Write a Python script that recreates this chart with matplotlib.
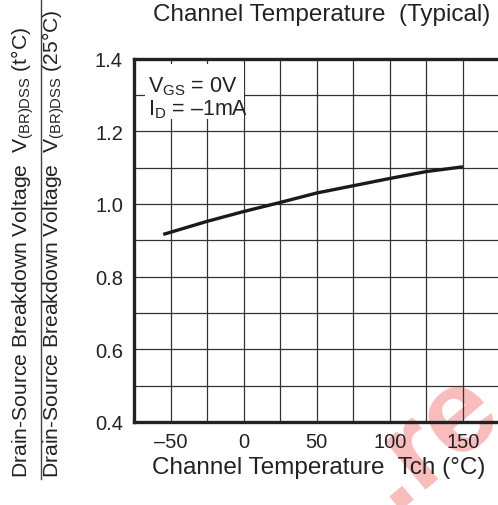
import matplotlib
matplotlib.use("Agg")
from matplotlib import pyplot as plt
from matplotlib.lines import Line2D
from matplotlib.patches import Rectangle
import numpy as np

plt.rcParams['font.family'] = ['Liberation Sans', 'DejaVu Sans']
plt.rcParams['mathtext.fontset'] = 'custom'
plt.rcParams['mathtext.rm'] = 'Liberation Sans'
plt.rcParams['mathtext.it'] = 'Liberation Sans'

# data
tch = [-55, -50, -25, 0, 25, 50, 75, 100, 125, 150]
ratio = [0.916, 0.922, 0.952, 0.979, 1.004, 1.030, 1.050, 1.070, 1.089, 1.102]

x_ticks = [-50, 0, 50, 100, 150]
x_tick_labels = ['\u201350', '0', '50', '100', '150']
y_ticks = [0.4, 0.6, 0.8, 1.0, 1.2, 1.4]
y_tick_labels = ['0.4', '0.6', '0.8', '1.0', '1.2', '1.4']

DEG = '\u00b0'
W, H = 498, 506
fig = plt.figure(figsize=(W / 100, H / 100), dpi=100)

left, right, top, bottom = 134, 499.5, 59.5, 423
ax = fig.add_axes([left / W, 1 - bottom / H, (right - left) / W, (bottom - top) / H])
ax.set_facecolor('none')

ax.set_xlim(-75, 175)
ax.set_ylim(0.4, 1.4)
ax.set_xticks(x_ticks)
ax.set_xticklabels(x_tick_labels)
ax.set_xticks(np.arange(-75, 176, 25), minor=True)
ax.set_yticks(y_ticks)
ax.set_yticklabels(y_tick_labels)
ax.set_yticks(np.arange(0.4, 1.41, 0.1), minor=True)
ax.tick_params(which='both', length=0, labelsize=14.5, colors='#222222')
ax.tick_params(axis='y', pad=8)
ax.tick_params(axis='x', pad=7)
ax.grid(which='both', color='#333333', linewidth=0.9)

for side in ['left', 'bottom', 'top']:
    ax.spines[side].set_linewidth(2.4)
    ax.spines[side].set_color('#222222')
ax.spines['right'].set_visible(False)

ax.plot(tch, ratio, color='#1a1a1a', linewidth=2.4, solid_capstyle='butt', zorder=5)

# condition box
ax.add_patch(Rectangle((-67.5, 1.234), 68, 0.151, facecolor='white', edgecolor='none', zorder=3))
ax.text(-65.5, 1.31, r'V$_{\rm GS}$ = 0V', fontsize=15.5, color='#222222', va='baseline', zorder=4)
ax.text(-65.5, 1.247, r'I$_{\rm D}$ = ' + '\u20131mA',
        fontsize=15.5, color='#222222', va='baseline', zorder=4)

fig.text(322 / W, 1 - 15 / H, 'Channel Temperature  (Typical)', fontsize=17.5,
         color='#222222', ha='center', va='center')
fig.text(319 / W, 1 - 468 / H, 'Channel Temperature  Tch (' + DEG + 'C)', fontsize=17.5,
         color='#222222', ha='center', va='center')

# y label as a fraction
fig.text(23 / W, 1 - 478 / H, r'Drain-Source Breakdown Voltage  V$_{\rm (BR)DSS}$ (t' + DEG + 'C)',
         fontsize=15.2, color='#222222', rotation=90, ha='center', va='bottom')
fig.text(54 / W, 1 - 478 / H, r'Drain-Source Breakdown Voltage  V$_{\rm (BR)DSS}$ (25' + DEG + 'C)',
         fontsize=15.2, color='#222222', rotation=90, ha='center', va='bottom')
fig.add_artist(Line2D([41 / W, 41 / W], [1 - 480 / H, 1.0], color='#444444', linewidth=1.0))

# watermark
fig.text(430 / W, 1 - 440 / H, '.re', fontsize=86, fontweight='bold', color='#f8bcbc',
         rotation=40, ha='center', va='center', zorder=-1)

fig.savefig('out.png', dpi=100)
